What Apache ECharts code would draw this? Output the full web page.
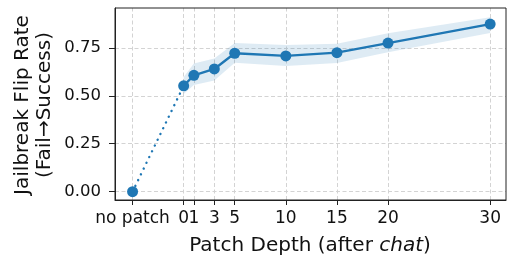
<!DOCTYPE html>
<html>
<head>
<meta charset="utf-8">
<script src="https://cdn.jsdelivr.net/npm/echarts@6/dist/echarts.min.js"></script>
<style>
  html, body { margin: 0; padding: 0; background: #fff; }
  #chart { width: 508px; height: 257px; }
</style>
</head>
<body>
<div id="chart"></div>
<script>
  // patch depth, "no patch" is put at -5 on the axis
  var depths = [0, 1, 3, 5, 10, 15, 20, 30];
  var flipRate = [0.552, 0.607, 0.640, 0.722, 0.708, 0.725, 0.775, 0.874];
  var bandLow = [0.510, 0.557, 0.580, 0.672, 0.656, 0.671, 0.727, 0.828];
  var bandHigh = [0.598, 0.668, 0.694, 0.775, 0.765, 0.772, 0.826, 0.910];
  var noPatchX = -5;
  var noPatchRate = 0.0;
  var xTicks = [-5, 0, 1, 3, 5, 10, 15, 20, 30];
  var yTicks = [0, 0.25, 0.5, 0.75];

  var blue = '#1f77b4';
  var gridStyle = { color: '#d3d3d3', type: [4, 2.5], width: 1 };

  var mainData = depths.map(function (d, i) { return [d, flipRate[i]]; });

  var chart = echarts.init(document.getElementById('chart'));
  chart.setOption({
    animation: false,
    grid: { left: 115, right: 2, top: 8, bottom: 57 },
    xAxis: {
      type: 'value',
      min: -6.72,
      max: 31.55,
      axisLine: { onZero: false, lineStyle: { color: '#222', width: 1 } },
      axisTick: { customValues: xTicks, length: 5, lineStyle: { color: '#222' } },
      axisLabel: {
        customValues: xTicks,
        margin: 10,
        color: '#111',
        fontSize: 17,
        fontFamily: 'DejaVu Sans',
        formatter: function (v) { return v === noPatchX ? 'no patch' : String(v); }
      },
      splitLine: { show: false }
    },
    yAxis: {
      type: 'value',
      min: -0.0435,
      max: 0.958,
      axisLine: { show: true, onZero: false, lineStyle: { color: '#222', width: 1 } },
      axisTick: { show: true, customValues: yTicks, length: 6, lineStyle: { color: '#222' } },
      axisLabel: {
        customValues: yTicks,
        margin: 14,
        color: '#111',
        fontSize: 16.5,
        fontFamily: 'DejaVu Sans',
        formatter: function (v) { return v.toFixed(2); }
      },
      splitLine: { show: false }
    },
    graphic: [
      {
        // top and right frame
        type: 'rect', shape: { x: 115, y: 8, width: 391, height: 192 },
        style: { fill: 'none', stroke: '#222', lineWidth: 1 }, z: 100, silent: true
      },
      {
        type: 'text', x: 34, y: 105, rotation: Math.PI / 2,
        style: {
          text: 'Jailbreak Flip Rate\n(Fail\u2192Success)',
          font: '20px "DejaVu Sans"', fill: '#111',
          align: 'center', verticalAlign: 'middle', lineHeight: 22
        }
      },
      {
        type: 'text', x: 310, y: 246,
        style: {
          text: '{a|Patch Depth (after }{b|chat}{a|)}',
          align: 'center', verticalAlign: 'middle',
          rich: {
            a: { font: '20px "DejaVu Sans"', fill: '#111' },
            b: { font: 'italic 20px "DejaVu Sans"', fill: '#111' }
          }
        }
      }
    ],
    series: [
      {
        // dashed grid lines at the tick positions
        type: 'line', data: [], silent: true, z: 0,
        markLine: {
          silent: true, symbol: 'none', label: { show: false },
          z: 0,
          lineStyle: gridStyle,
          emphasis: { disabled: true },
          data: xTicks.map(function (v) { return { xAxis: v }; })
            .concat(yTicks.map(function (v) { return { yAxis: v }; }))
        }
      },
      {
        type: 'custom',
        data: [[0, 0]],
        silent: true,
        z: 1,
        renderItem: function (params, api) {
          var pts = [];
          for (var i = 0; i < depths.length; i++) pts.push(api.coord([depths[i], bandHigh[i]]));
          for (var j = depths.length - 1; j >= 0; j--) pts.push(api.coord([depths[j], bandLow[j]]));
          return {
            type: 'polygon',
            shape: { points: pts },
            style: { fill: 'rgba(31,119,180,0.15)', stroke: null }
          };
        }
      },
      {
        type: 'line',
        data: [[noPatchX, noPatchRate], [depths[0], flipRate[0]]],
        symbol: 'circle',
        symbolSize: function (v, p) { return p.dataIndex === 0 ? 11 : 0; },
        lineStyle: { color: blue, width: 2.4, type: [0.1, 6.3], cap: 'round' },
        itemStyle: { color: blue },
        z: 3
      },
      {
        type: 'line',
        data: mainData,
        symbol: 'circle',
        symbolSize: 11,
        lineStyle: { color: blue, width: 2.3 },
        itemStyle: { color: blue },
        z: 4
      }
    ]
  });
</script>
</body>
</html>
